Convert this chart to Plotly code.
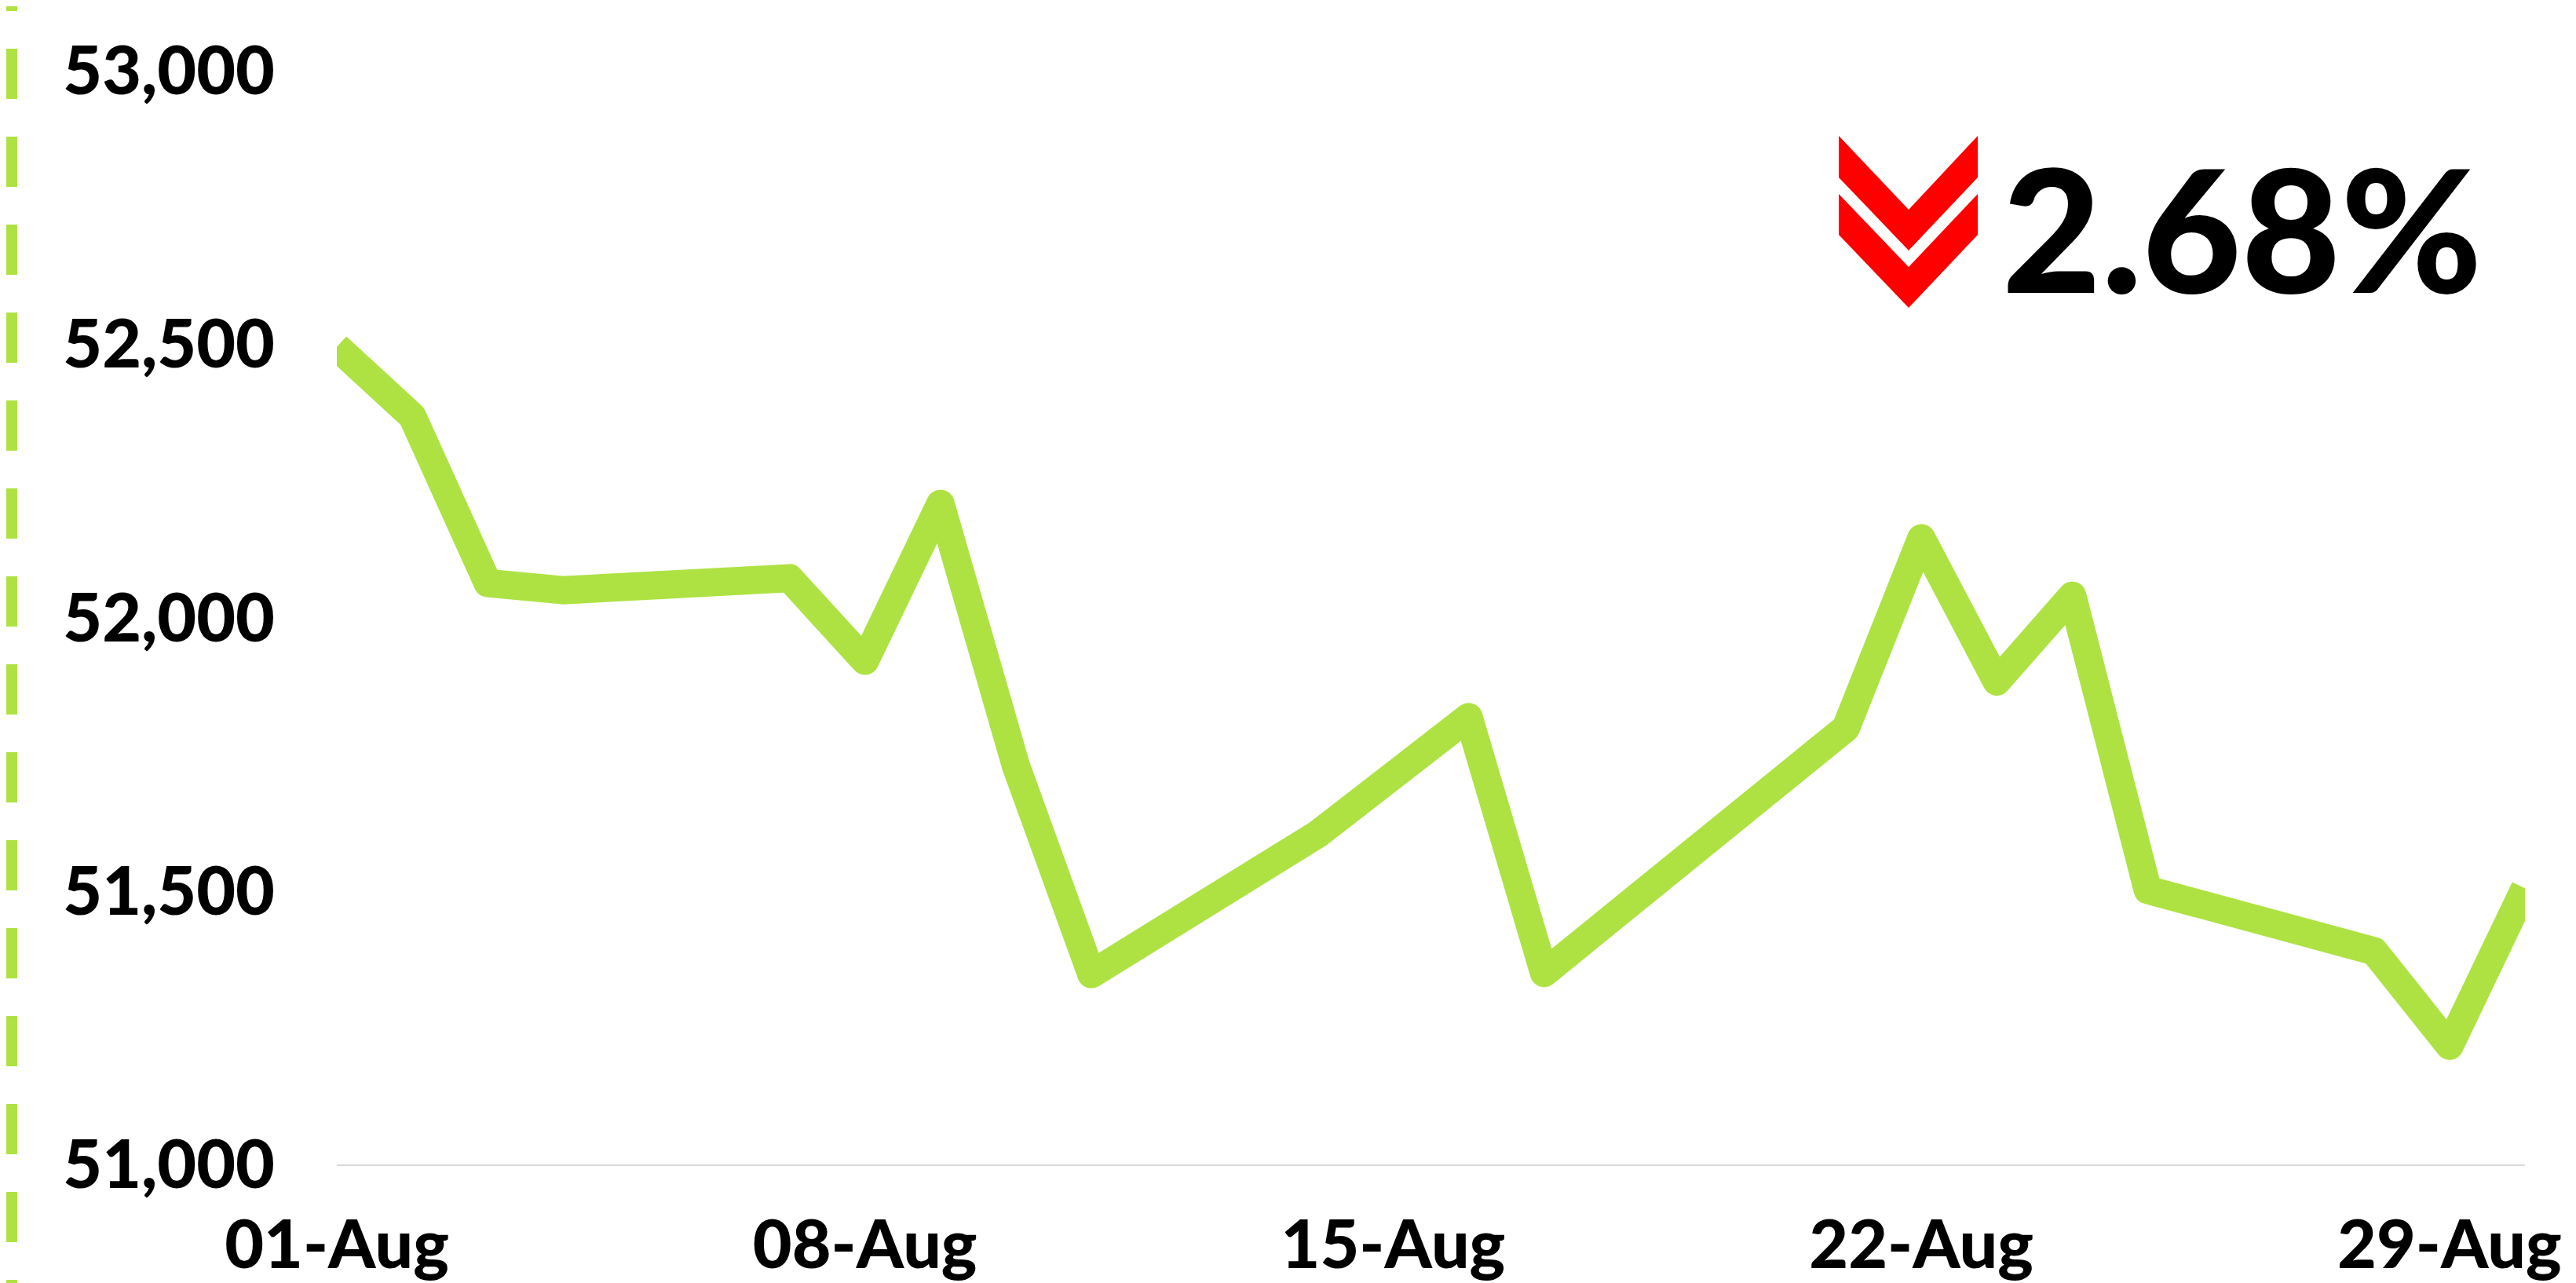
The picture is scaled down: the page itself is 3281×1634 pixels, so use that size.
import plotly.graph_objects as go

# ---- data ----
dates = ["2023-08-01", "2023-08-02", "2023-08-03", "2023-08-04", "2023-08-07",
         "2023-08-08", "2023-08-09", "2023-08-10", "2023-08-11", "2023-08-14",
         "2023-08-16", "2023-08-17", "2023-08-21", "2023-08-22", "2023-08-23",
         "2023-08-24", "2023-08-25", "2023-08-28", "2023-08-29", "2023-08-30"]
values = [52495, 52368, 52063, 52050, 52072,
          51921, 52208, 51729, 51348, 51604,
          51818, 51350, 51798, 52145, 51883,
          52040, 51502, 51390, 51217, 51505]
x_tickvals = ["2023-08-01", "2023-08-08", "2023-08-15", "2023-08-22", "2023-08-29"]
x_ticktext = ["01-Aug", "08-Aug", "15-Aug", "22-Aug", "29-Aug"]
y_tickvals = [51000, 51500, 52000, 52500, 53000]
change_text = "2.68%"

# ---- layout geometry (page pixels; page body has an 8px margin) ----
PAGE_W, PAGE_H, OFF = 3281, 1634, 8
W, H = PAGE_W - OFF, PAGE_H - OFF
L, R, T, B = 429, 3216, 90, 1483

def px(x):
    return (x - L) / (R - L)

def py(y):
    return (B - y) / (B - T)

GREEN = "#AEE242"
FONT = "Lato"

fig = go.Figure()
fig.add_trace(go.Scatter(
    x=dates, y=values, mode="lines",
    line=dict(color=GREEN, width=36),
    hoverinfo="skip", showlegend=False,
))

# red double chevron
def chevron(top, inner, edge, bottom):
    pts = [(2342, top), (2431, inner), (2519, top), (2519, edge), (2431, bottom), (2342, edge)]
    d = "M " + " L ".join(f"{px(a):.5f},{py(b):.5f}" for a, b in pts) + " Z"
    return dict(type="path", xref="paper", yref="paper", path=d,
                fillcolor="#FF0000", line=dict(width=0), layer="above")

shapes = [
    chevron(173, 267, 226, 319),
    chevron(247, 340, 299, 392),
    dict(type="line", xref="paper", yref="paper",
         x0=px(14), x1=px(14), y0=py(-50), y1=py(1720),
         line=dict(color=GREEN, width=16, dash="64px,48px")),
]

fig.update_layout(
    width=W, height=H,
    margin=dict(l=L - OFF, r=PAGE_W - R, t=T - OFF, b=PAGE_H - B, pad=0, autoexpand=False),
    paper_bgcolor="white", plot_bgcolor="white",
    shapes=shapes,
    font=dict(family=FONT, color="black"),
    annotations=[dict(
        text=change_text, xref="paper", yref="paper",
        x=px(2548), y=py(288), xanchor="left", yanchor="middle",
        showarrow=False,
        font=dict(family=FONT, size=218, color="black", weight=900),
    )],
    xaxis=dict(
        type="date", range=["2023-08-01", "2023-08-30"],
        tickvals=x_tickvals, ticktext=x_ticktext,
        showgrid=False, zeroline=False, automargin=False,
        showline=True, linecolor="#D9D9D9", linewidth=2,
        ticks="", ticklabelstandoff=27,
        tickfont=dict(family=FONT, size=86, color="black", weight=900),
    ),
    yaxis=dict(
        range=[51000, 53000], tickvals=y_tickvals, tickformat=",d",
        showgrid=False, zeroline=False, showline=False, automargin=False,
        ticks="", ticklabelstandoff=78,
        tickfont=dict(family=FONT, size=86, color="black", weight=900),
    ),
)

post = ("document.querySelectorAll('path.js-line').forEach(function(p){"
        "p.style.strokeLinejoin='round';});")
fig.write_html("out.html", post_script=post)
